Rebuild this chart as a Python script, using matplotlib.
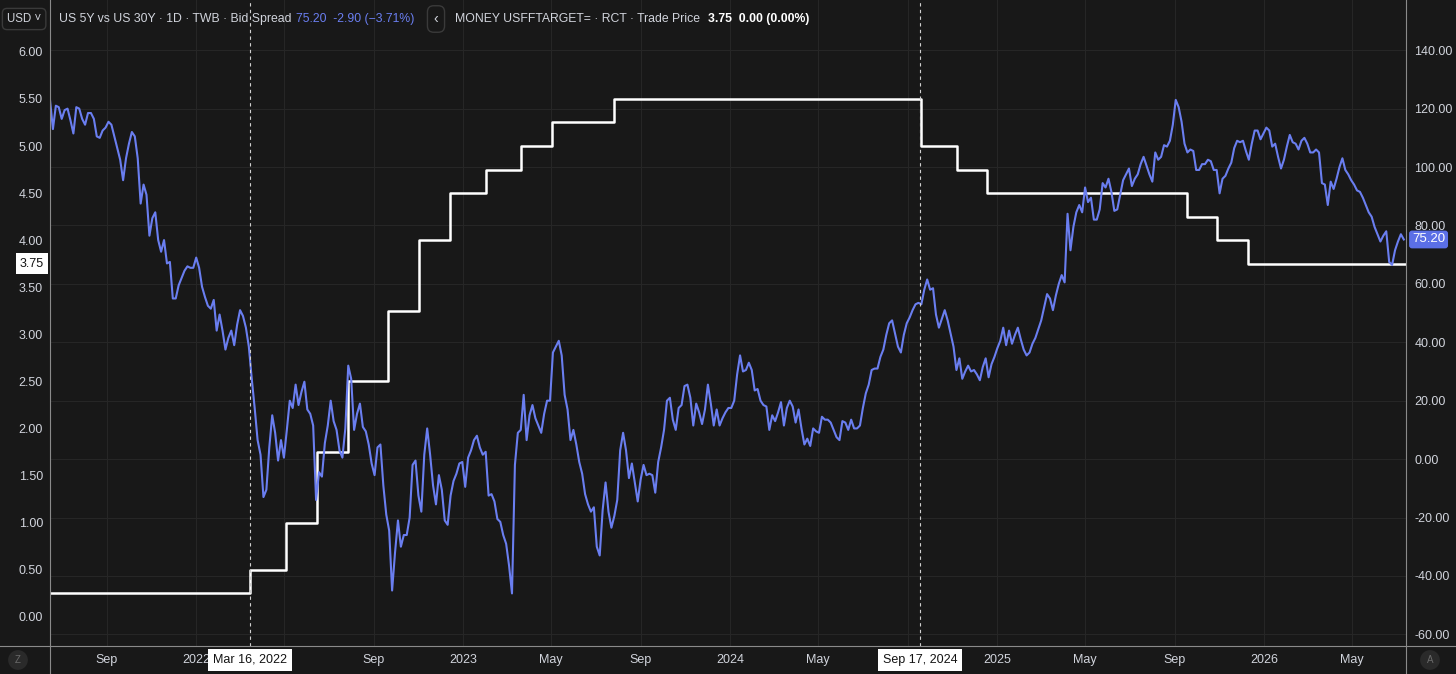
import numpy as np
import pandas as pd
import matplotlib
matplotlib.use('Agg')
import matplotlib.pyplot as plt
import matplotlib.dates as mdates
from matplotlib.lines import Line2D
from matplotlib.ticker import FuncFormatter, FormatStrFormatter

plt.rcParams['font.family'] = ['Liberation Sans', 'DejaVu Sans']

# US 5Y vs US 30Y spread (bp), one reading every 4 days off the chart
spread_start = '2021-06-15'
spread_bp = [
    123, 113, 121, 120.5, 116.5, 119.5, 120, 116, 111.5, 120.5,
    120, 116.5, 114.5, 118.5, 118.5, 116.5, 110.5, 110, 112.5, 113.5,
    115.5, 114.5, 110.5, 106.5, 102.5, 95.5, 103, 108, 112, 110.5,
    103, 87.5, 94, 90.5, 76.5, 82.5, 84.5, 75, 71, 75,
    67, 67.5, 55, 55, 59.5, 62, 64.5, 66, 65.5, 65.5,
    69, 65.5, 59, 55.5, 52.5, 51.5, 54.5, 44, 49.5, 44,
    37.5, 41.5, 44, 39, 46, 51, 49, 45, 38.5, 27.5,
    17.5, 6.5, 1.5, -13, -10.5, 4, 15, 9, -0.5, 6.5,
    0.5, 10, 20, 17.5, 25.5, 18.5, 23, 26.5, 17, 15.5,
    11.5, -14, -4.5, -6, 5.5, 11.5, 20, 13, 10, 3,
    0.5, 10.5, 32, 27.5, 10, 15.5, 19, 11, 9.5, 5,
    -1.5, -5.5, 4, 5, -9, -19, -24.5, -45, -32, -21,
    -30, -26, -26, -20, -2, -0.5, -12.5, -18, 1.5, 10.5,
    1.5, -9, -15.5, -5.5, -10.5, -21, -22.5, -12.5, -7.5, -5,
    -1.5, -1, -9.5, 0.5, 3, 6.5, 8, 4, 1.5, 2.5,
    -12.5, -12, -14.5, -20.5, -21.5, -26, -29, -36.5, -46, -2,
    9, 10, 22, 6.5, 15, 18.5, 14, 11.5, 9, 15.5,
    20, 20, 36.5, 38.5, 40.5, 35.5, 22, 17, 6.5, 10,
    5, -1, -5, -12, -15.5, -18, -16.5, -30, -33, -17.5,
    -8, -18, -23.5, -19.5, -14, 3, 9, 3, -6.5, -1.5,
    -8, -14.5, -7, -2, -5.5, -5, -5.5, -11.5, -1, 4,
    10, 20, 21, 13.5, 10, 17.5, 18.5, 25, 25.5, 21,
    11.5, 19, 16, 12, 17, 25.5, 19, 11.5, 17, 11.5,
    14, 16, 17.5, 17.5, 20, 29, 35.5, 30, 30.5, 33,
    30.5, 23.5, 24, 20, 18.5, 18, 10, 15, 13, 16,
    19.5, 11.5, 17.5, 20, 18, 12.5, 17, 10.5, 5, 7,
    4.5, 10.5, 9.5, 9, 14.5, 13.5, 13.5, 12.5, 10, 7.5,
    6.5, 13, 12.5, 10, 13.5, 10.5, 10.5, 11.5, 17.5, 22.5,
    25.5, 30.5, 31, 31, 35, 37.5, 42.5, 46.5, 47.5, 43,
    38.5, 36.5, 42.5, 46.5, 48.5, 51, 53, 53.5, 53, 58,
    61.5, 58, 58.5, 49.5, 45, 48, 51, 47.5, 43, 38.5,
    30.5, 34.5, 27.5, 30, 32, 30, 30.5, 29, 27, 31.5,
    34.5, 28, 32.5, 35, 38, 40.5, 45, 39, 44, 39.5,
    42.5, 45, 41, 37.5, 35.5, 36.5, 39.5, 41.5, 44.5, 47.5,
    52, 56.5, 55, 51, 56, 60, 63, 60.5, 84, 71.5,
    79.5, 84.5, 87, 84.5, 93, 88, 89.5, 82, 82, 85.5,
    94.5, 93, 96, 91.5, 85, 85.5, 90.5, 95.5, 97.5, 99.5,
    93.5, 96, 97.5, 101, 103.5, 100.5, 97.5, 95, 105, 102.5,
    103.5, 107.5, 107, 109, 114.5, 123, 120.5, 115.5, 108, 105,
    106, 105.5, 99, 99, 101, 101, 102.5, 102, 99, 99,
    91, 96, 97, 99.5, 101.5, 106.5, 109, 108.5, 109, 105.5,
    102.5, 108, 112.5, 112.5, 109.5, 111.5, 113.5, 112.5, 107, 108,
    103.5, 99.5, 102.5, 107, 111, 108.5, 108, 106, 109, 110,
    108, 105, 105, 106, 105, 94.5, 94, 87, 95, 92.5,
    96, 100, 103, 99, 97.5, 95.5, 94, 92, 91.5, 89.5,
    87, 84.5, 83, 79.5, 77, 74.5, 76.5, 78, 67.5, 66.5,
    71.5, 74.5, 77, 75.2,
]
spread_dates = pd.date_range(spread_start, periods=len(spread_bp), freq='4D')

# Fed funds target (upper bound), changes
ff_dates = ['2021-06-15', '2022-03-16', '2022-05-04', '2022-06-15', '2022-07-27',
            '2022-09-21', '2022-11-02', '2022-12-14', '2023-02-01', '2023-03-22',
            '2023-05-03', '2023-07-26', '2024-09-18', '2024-11-07', '2024-12-18',
            '2025-09-17', '2025-10-29', '2025-12-10', '2026-07-14']
ff_rate = [0.25, 0.50, 1.00, 1.75, 2.50, 3.25, 4.00, 4.50, 4.75, 5.00,
           5.25, 5.50, 5.00, 4.75, 4.50, 4.25, 4.00, 3.75, 3.75]

marker_dates = ['2022-03-16', '2024-09-17']
marker_labels = ['Mar 16, 2022', 'Sep 17, 2024']

left_ticks = np.arange(0, 6.01, 0.5)
right_ticks = np.arange(-60, 141, 20)

BG = '#181818'
GRID = '#262626'
TXT = '#d1d4dc'
BLUE = '#6a7ef0'
FRAME = '#8a8a8a'
W, H = 1456, 674

fig = plt.figure(figsize=(W / 100, H / 100), dpi=100, facecolor=BG)
ax = fig.add_axes([50 / W, 28 / H, 1356 / W, 646 / H])
ax.set_facecolor(BG)
ax_r = ax.twinx()

ax.set_xlim(pd.Timestamp('2021-06-15'), pd.Timestamp('2026-07-14'))
ax.set_ylim(-0.308, 6.55)

# fed funds drawn in ax_r but on the left scale, so the blue line sits on top
ax_r.step(pd.to_datetime(ff_dates), ff_rate, where='post', color='white',
          lw=1.8, transform=ax.transData, zorder=2)
ax_r.plot(spread_dates, spread_bp, color=BLUE, lw=1.5, zorder=3)
ax_r.set_ylim(-64.0, 157.2)

marker_ts = [pd.Timestamp(d) for d in marker_dates]
for d in marker_ts:
    ax_r.axvline(d, color='#d0d0d0', lw=0.8, ls=(0, (3, 3)), zorder=4)

# ticks
ax.set_yticks(left_ticks)
ax.yaxis.set_major_formatter(FormatStrFormatter('%.2f'))
ax_r.set_yticks(right_ticks)
ax_r.yaxis.set_major_formatter(FormatStrFormatter('%.2f'))

ax.xaxis.set_major_locator(mdates.MonthLocator(bymonth=[1, 5, 9]))
def fmt_month(x, pos):
    d = pd.Timestamp(mdates.num2date(x)).tz_localize(None)
    # labels sitting under the crosshair date boxes are hidden
    if any(abs((d - m).days) < 60 for m in marker_ts):
        return ''
    return str(d.year) if d.month == 1 else d.strftime('%b')
ax.xaxis.set_major_formatter(FuncFormatter(fmt_month))

ax.tick_params(axis='y', length=0, pad=5, labelsize=9, labelcolor=TXT)
ax_r.tick_params(axis='y', length=0, pad=6, labelsize=9, labelcolor=TXT)
ax.tick_params(axis='x', length=0, pad=6, labelsize=9, labelcolor=TXT)

ax.grid(axis='x', color=GRID, lw=0.8)
ax_r.grid(axis='y', color=GRID, lw=0.8)
ax_r.set_axisbelow(True)
for a in (ax, ax_r):
    for s in a.spines.values():
        s.set_visible(False)

# frame lines
fig.add_artist(Line2D([0, 1], [28 / H, 28 / H], color=FRAME, lw=0.8))
fig.add_artist(Line2D([50 / W, 50 / W], [0, 1], color=FRAME, lw=0.8))
fig.add_artist(Line2D([1406 / W, 1406 / W], [0, 1], color=FRAME, lw=0.8))

# crosshair date labels
for d, lab in zip(marker_ts, marker_labels):
    ax_r.text(d, -14 / 646, lab, transform=ax_r.get_xaxis_transform(),
              ha='center', va='center', fontsize=9, color='#131313', zorder=10,
              clip_on=False,
              bbox=dict(boxstyle='square,pad=0.4', fc='white', ec='none'))

# last value labels
ax.text(-6 / 1356, ff_rate[-1], f'{ff_rate[-1]:.2f}', transform=ax.get_yaxis_transform(),
        ha='right', va='center', fontsize=9, color='#131313', clip_on=False, zorder=10,
        bbox=dict(boxstyle='square,pad=0.35', fc='white', ec='none'))
ax_r.text(1 + 6 / 1356, spread_bp[-1], f'{spread_bp[-1]:.2f}',
          transform=ax_r.get_yaxis_transform(), ha='left', va='center', fontsize=9.5,
          color='white', clip_on=False, zorder=10,
          bbox=dict(boxstyle='round,pad=0.22', fc='#5b6fe6', ec='none'))

# header legend
renderer = fig.canvas.get_renderer()
yc = 1 - 19 / H
hdr = dict(va='center', fontsize=8.8)
box = dict(boxstyle='round,pad=0.4', fc=BG, ec='#3a3a3a')


def chain(x, parts):
    for s, c, w, gap in parts:
        t = fig.text(x / W, yc, s, color=c, fontweight=w, **hdr)
        x = t.get_window_extent(renderer).x1 + gap
    return x


fig.text(7 / W, yc, 'USD ˅', color=TXT, fontsize=8.3, va='center', bbox=box)
chain(59, [('US 5Y vs US 30Y · 1D · TWB · Bid Spread', TXT, 'normal', 5),
           ('75.20  -2.90 (−3.71%)', BLUE, 'normal', 0)])
fig.text(436 / W, yc, '‹', color=TXT, fontsize=10, ha='center', va='center',
         bbox=dict(boxstyle='round,pad=0.45', fc=BG, ec='#3a3a3a'))
chain(455, [('MONEY USFFTARGET= · RCT · Trade Price', TXT, 'normal', 8),
            ('3.75  0.00 (0.00%)', 'white', 'bold', 0)])

# corner buttons
for xp, t in ((18, 'Z'), (1430, 'A')):
    fig.text(xp / W, 1 - 660 / H, t, ha='center', va='center', fontsize=7,
             color='#6a6a6a', bbox=dict(boxstyle='circle,pad=0.5', fc='#2a2a2a', ec='none'))

fig.savefig('out.png', dpi=100, facecolor=BG)
